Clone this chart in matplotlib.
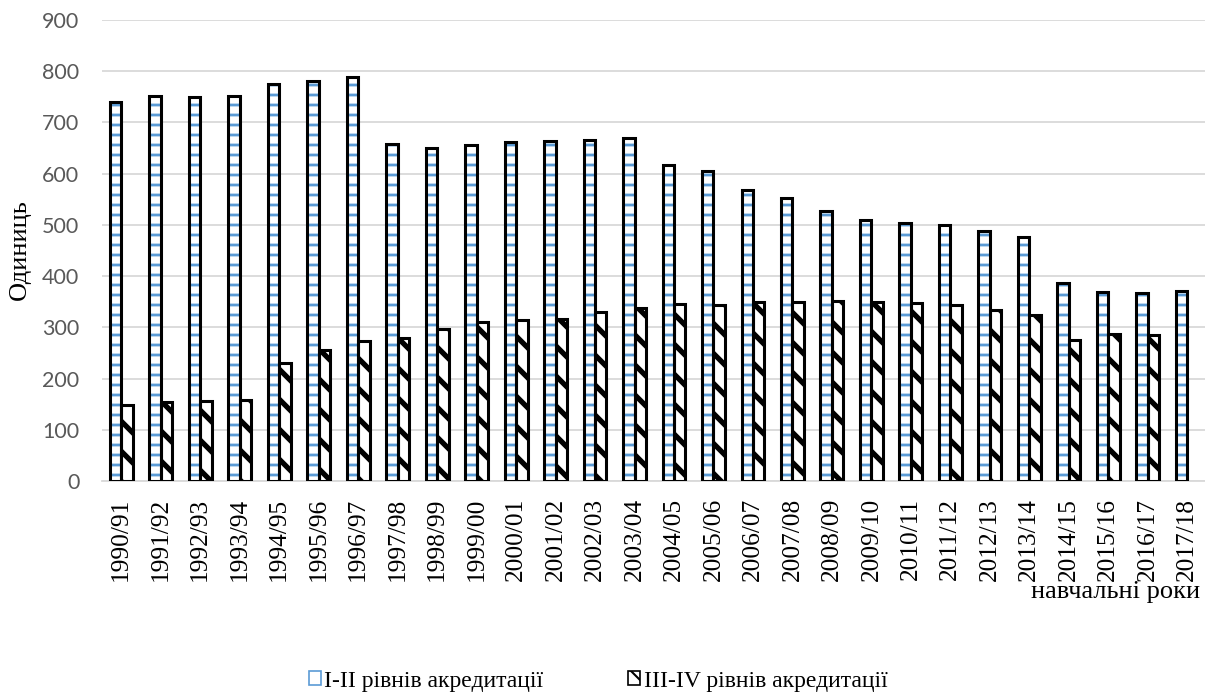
import matplotlib
matplotlib.use("Agg")
import matplotlib.pyplot as plt
import numpy as np
from matplotlib.patches import Patch
from matplotlib import font_manager

years = ["1990/91", "1991/92", "1992/93", "1993/94", "1994/95", "1995/96", "1996/97",
         "1997/98", "1998/99", "1999/00", "2000/01", "2001/02", "2002/03", "2003/04",
         "2004/05", "2005/06", "2006/07", "2007/08", "2008/09", "2009/10", "2010/11",
         "2011/12", "2012/13", "2013/14", "2014/15", "2015/16", "2016/17", "2017/18"]
level_1_2 = [740, 752, 750, 752, 776, 780, 788, 658, 651, 656, 662, 664, 666, 669,
             617, 605, 569, 552, 527, 510, 504, 500, 488, 477, 386, 369, 368, 371]
level_3_4 = [148, 155, 157, 158, 231, 255, 273, 279, 296, 311, 314, 317, 329, 338,
             345, 344, 349, 349, 351, 349, 348, 344, 333, 324, 276, 287, 286, 0]

label_1 = "I-II рівнів акредитації"
label_2 = "III-IV рівнів акредитації"

DPI = 180
S = 100 / DPI          # converts "points at 100 dpi" to points at DPI
W, H = 1205, 697

plt.rcParams["font.serif"] = ["Liberation Serif", "Times New Roman", "DejaVu Serif"]

def serif(size):
    return font_manager.FontProperties(family="serif", size=size * S)

fig = plt.figure(figsize=(W / DPI, H / DPI), dpi=DPI)
ax = fig.add_axes([101.5 / W, 1 - 481 / H, (1207 - 101.5) / W, (481 - 20) / H])

x = np.arange(len(years))
w = 0.29
blue = "#5B9BD5"

# blue series: white with blue horizontal hatch + black outline
plt.rcParams["hatch.linewidth"] = 2.0 * S
ax.bar(x - w / 2, level_1_2, width=w, color="white", edgecolor=blue, hatch="---",
       linewidth=0, zorder=3)
ax.bar(x - w / 2, level_1_2, width=w, color="none", edgecolor="black",
       linewidth=2.2 * S, zorder=4)

# black series: white with black diagonal hatch + outline
lv2 = np.array(level_3_4, dtype=float)
mask = lv2 > 0
plt.rcParams["hatch.linewidth"] = 3.8 * S
ax.bar(x[mask] + w / 2, lv2[mask], width=w, color="white", edgecolor="black", hatch="\\\\",
       linewidth=2.2 * S, zorder=3)

ax.set_xlim(-0.5, len(years) - 0.5)
ax.set_ylim(0, 900)
ax.set_yticks(range(0, 901, 100))
ax.grid(axis="y", color="#D9D9D9", linewidth=1.3 * S, zorder=0)
ax.set_axisbelow(True)
for s in ["top", "right", "left"]:
    ax.spines[s].set_visible(False)
ax.spines["bottom"].set_color("#D9D9D9")
ax.spines["bottom"].set_linewidth(1.3 * S)
ax.tick_params(axis="both", length=0)
ax.tick_params(axis="y", labelsize=15.5 * S, labelcolor="#595959", pad=16 * S)
for t in ax.get_yticklabels():
    t.set_family("Lato")

ax.set_xticks(x)
ax.set_xticklabels(years, rotation=90, color="black")
xfp = serif(18.3)
for t in ax.get_xticklabels():
    t.set_fontproperties(xfp)
ax.tick_params(axis="x", pad=12 * S)

fig.text(20 / W, 1 - 250 / H, "Одиниць", rotation=90, fontproperties=serif(19),
         ha="center", va="center")
fig.text(1200 / W, 1 - 592 / H, "навчальні роки", fontproperties=serif(19),
         ha="right", va="center")

plt.rcParams["hatch.linewidth"] = 1.5 * S
h1 = Patch(facecolor="white", edgecolor=blue, linewidth=1.2 * S)
h2 = Patch(facecolor="white", edgecolor="black", hatch="\\\\\\", linewidth=1.2 * S)
leg = fig.legend([h1, h2], [label_1, label_2], loc="center",
                 bbox_to_anchor=(598 / W, 1 - 681 / H), ncol=2, frameon=False,
                 prop=serif(17), handlelength=0.5, handleheight=0.5,
                 handletextpad=0.15, columnspacing=3.6, borderpad=0.2)

fig.savefig("out.png", dpi=DPI)
